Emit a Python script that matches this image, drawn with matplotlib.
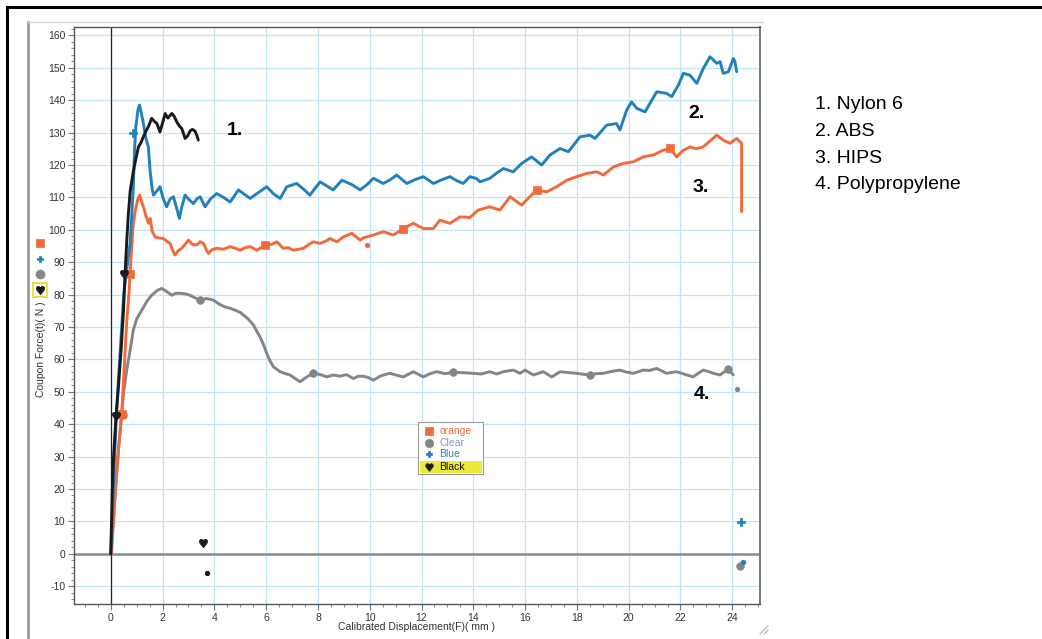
import matplotlib
matplotlib.use('Agg')
import matplotlib.pyplot as plt
from matplotlib.lines import Line2D
from matplotlib.patches import Rectangle
from matplotlib.ticker import MultipleLocator

# ---------------- data ----------------
# 1. Nylon 6 ("Black")
black_pts = [(0, 0), (0.03, 10), (0.06, 20), (0.1, 29), (0.2, 42), (0.3, 52), (0.4, 63),
             (0.49, 75), (0.55, 86), (0.62, 97), (0.68, 105), (0.75, 112), (0.87, 118),
             (0.97, 122), (1.07, 125.6), (1.17, 127), (1.26, 128.7), (1.36, 130.5),
             (1.45, 131.8), (1.58, 134.4), (1.68, 133.5), (1.78, 132.8), (1.9, 130.2),
             (2.0, 133), (2.1, 135.9), (2.2, 134.5), (2.36, 135.9), (2.45, 135),
             (2.55, 133.3), (2.65, 132), (2.74, 131.3), (2.87, 128.2), (2.97, 129),
             (3.06, 130.5), (3.15, 131), (3.25, 130.5), (3.32, 129.2), (3.38, 127.7)]
black_marks = [(0.2, 42.5), (0.5, 86.5), (3.58, 3.2)]
black_small = [(3.73, -5.9)]

# 2. ABS ("Blue")
blue_pts = [(0, 0), (0.05, 10), (0.12, 25), (0.23, 45), (0.36, 62), (0.5, 80), (0.62, 88),
            (0.75, 96), (0.87, 113), (0.92, 125), (0.97, 132), (1.05, 137), (1.11, 138.5),
            (1.18, 136), (1.26, 132.8), (1.35, 128.5), (1.45, 125.6), (1.52, 118),
            (1.6, 112.5), (1.65, 110.7), (1.78, 112), (1.9, 113.3), (2.03, 109.5),
            (2.16, 107.1), (2.29, 109.5), (2.42, 110.2), (2.55, 106.5), (2.65, 103.5),
            (2.74, 107), (2.87, 110.7), (3.0, 109.5), (3.19, 108.1), (3.32, 109.5),
            (3.45, 110.2), (3.64, 107.1), (3.85, 109.5), (4.09, 111.2), (4.35, 110),
            (4.61, 108.6), (4.93, 112.3), (5.15, 111), (5.38, 109.7), (5.7, 111.5),
            (6.02, 113.3), (6.3, 111), (6.54, 109.7), (6.8, 113.3), (7.18, 114.3),
            (7.45, 112.5), (7.69, 110.7), (8.08, 114.8), (8.35, 113.5), (8.59, 112.3),
            (8.92, 115.3), (9.3, 114), (9.63, 112.3), (9.9, 114), (10.14, 115.9),
            (10.52, 114.3), (10.8, 115.5), (11.04, 116.9), (11.43, 114.3), (11.75, 115.5),
            (12.07, 116.4), (12.46, 114.3), (12.8, 115.5), (13.1, 116.4), (13.35, 115.2),
            (13.61, 114.3), (13.87, 116.4), (14.13, 115.8), (14.26, 114.8), (14.64, 115.9),
            (14.9, 117.5), (15.16, 118.9), (15.54, 117.9), (15.87, 120.5), (16.25, 122.5),
            (16.64, 120), (16.96, 123.1), (17.35, 125.1), (17.67, 124.1), (18.12, 128.7),
            (18.51, 129.2), (18.7, 128.2), (19.15, 132.3), (19.53, 132.8), (19.66, 130.8),
            (19.92, 136.9), (20.11, 139.5), (20.31, 137.5), (20.63, 136.4), (21.08, 142.6),
            (21.47, 142.1), (21.66, 141.1), (21.92, 144.7), (22.11, 148.3), (22.37, 147.7),
            (22.63, 145.2), (22.88, 149.8), (23.14, 153.4), (23.4, 151.4), (23.53, 151.9),
            (23.65, 148.3), (23.85, 148.8), (24.04, 152.9), (24.1, 151.9), (24.17, 148.8)]
blue_marks = [(0.87, 130), (24.35, 9.9)]
blue_small = [(24.42, -2.5)]

# 3. HIPS ("orange")
orange_pts = [(0.03, 0), (0.1, 10), (0.2, 22), (0.3, 33), (0.42, 43), (0.49, 53), (0.55, 62),
              (0.62, 72), (0.7, 80), (0.75, 87), (0.81, 95), (0.87, 102), (0.95, 106),
              (1.03, 109), (1.11, 110.7), (1.2, 108.5), (1.26, 107.1), (1.35, 104.5),
              (1.45, 102), (1.52, 103.5), (1.6, 99.5), (1.71, 97.8), (1.85, 97.5),
              (2.03, 97.3), (2.16, 96.5), (2.29, 95.8), (2.4, 93.5), (2.48, 92.2),
              (2.6, 93.5), (2.74, 94.3), (2.87, 95.5), (3.0, 96.8), (3.15, 95.5),
              (3.32, 95.3), (3.45, 96.3), (3.58, 95.8), (3.68, 94), (3.77, 92.7),
              (3.9, 93.8), (4.09, 94.3), (4.35, 94), (4.61, 94.8), (4.8, 94.3), (5.0, 93.7),
              (5.2, 94.5), (5.38, 94.8), (5.64, 93.7), (5.96, 95.3), (6.2, 95.5),
              (6.41, 96.3), (6.66, 94.3), (6.85, 94.5), (7.05, 93.7), (7.25, 94),
              (7.44, 94.3), (7.65, 95.5), (7.82, 96.3), (8.08, 95.8), (8.3, 96.5),
              (8.47, 97.3), (8.73, 96.3), (8.98, 97.8), (9.31, 98.9), (9.63, 96.8),
              (9.75, 97.5), (10.14, 98.4), (10.52, 99.4), (10.91, 98.4), (11.3, 100.4),
              (11.68, 102), (12.07, 100.4), (12.46, 100.4), (12.71, 103), (13.1, 102),
              (13.49, 104), (13.87, 103.8), (14.19, 106.1), (14.64, 107.1), (15.03, 106.1),
              (15.42, 110.2), (15.87, 107.6), (16.15, 110), (16.45, 112.3), (16.83, 111.7),
              (17.22, 113.3), (17.61, 115.3), (17.99, 116.4), (18.38, 117.4), (18.77, 117.9),
              (19.02, 116.9), (19.41, 119.4), (19.79, 120.5), (20.18, 121), (20.56, 122.5),
              (20.95, 123.1), (21.34, 124.6), (21.6, 125.1), (21.85, 122.5), (22.1, 124.5),
              (22.37, 125.6), (22.6, 125), (22.88, 125.6), (23.15, 127.5), (23.4, 129.2),
              (23.65, 127.7), (23.91, 126.7), (24.17, 128.2), (24.36, 126.7), (24.36, 118),
              (24.36, 105.6)]
orange_marks = [(0.42, 43), (0.75, 86.5), (5.96, 95.3), (11.3, 100.4), (16.45, 112.3),
                (21.6, 125.1)]
orange_small = [(9.88, 95.3)]

# 4. Polypropylene ("Clear")
gray_pts = [(0, 0), (0.1, 10), (0.2, 22), (0.3, 32), (0.42, 43), (0.5, 50), (0.62, 57),
            (0.75, 63), (0.87, 69), (1.0, 72.5), (1.2, 75.2), (1.4, 78), (1.58, 79.8),
            (1.8, 81.3), (1.97, 81.9), (2.15, 81), (2.36, 79.8), (2.5, 80.4), (2.68, 80.4),
            (2.9, 80.2), (3.06, 79.8), (3.25, 79), (3.45, 78.3), (3.7, 78.8), (3.96, 78.3),
            (4.2, 77), (4.41, 76.2), (4.6, 75.8), (4.8, 75.2), (5.0, 74.5), (5.12, 73.7),
            (5.3, 72.5), (5.51, 70.6), (5.65, 68.5), (5.76, 67), (5.9, 64.5), (6.02, 61.9),
            (6.15, 59.5), (6.28, 57.7), (6.54, 56.2), (6.75, 55.6), (6.92, 55.2),
            (7.1, 54.2), (7.31, 53.1), (7.55, 54.5), (7.82, 55.7), (8.1, 55.3),
            (8.34, 54.6), (8.6, 55.2), (8.85, 54.8), (9.1, 55.3), (9.37, 54.1),
            (9.55, 54.8), (9.75, 54.8), (9.95, 54.4), (10.14, 53.6), (10.4, 54.8),
            (10.66, 55.5), (10.78, 55.7), (11.0, 55.2), (11.3, 54.6), (11.68, 56.2),
            (12.07, 54.6), (12.3, 55.5), (12.59, 56.2), (12.9, 55.6), (13.23, 56),
            (13.6, 55.9), (14.0, 55.7), (14.3, 55.5), (14.64, 56.2), (14.9, 55.5),
            (15.16, 56.2), (15.54, 56.7), (15.8, 55.7), (16.0, 56.7), (16.32, 55.2),
            (16.7, 56.2), (17.03, 54.6), (17.35, 56.2), (17.7, 55.9), (17.99, 55.7),
            (18.25, 55.4), (18.5, 55.2), (18.75, 55.6), (19.02, 55.7), (19.35, 56.3),
            (19.66, 56.7), (19.9, 56.1), (20.18, 55.7), (20.56, 56.7), (20.8, 56.6),
            (21.08, 57.2), (21.47, 55.7), (21.85, 56.2), (22.24, 55.2), (22.49, 54.6),
            (22.7, 55.8), (22.88, 56.7), (23.1, 56.2), (23.27, 55.7), (23.53, 55.2),
            (23.7, 56.2), (23.85, 56.9), (24.04, 55.2)]
gray_marks = [(0.49, 42.8), (3.45, 78.3), (7.82, 55.7), (13.23, 56), (18.5, 55.2),
              (23.85, 56.9), (24.3, -3.9)]
gray_small = [(24.17, 51.0)]

legend_labels = ["orange", "Clear", "Blue", "Black"]
material_labels = ["1. Nylon 6", "2. ABS", "3. HIPS", "4. Polypropylene"]
x_ticks = list(range(0, 25, 2))
y_ticks = list(range(-10, 161, 10))

# ---------------- styling ----------------
ORANGE = '#F26A3A'
BLUE = '#2180BD'
GRAY = '#858585'
BLACK = '#1a1a1a'

plt.rcParams['font.family'] = ['Liberation Sans', 'DejaVu Sans']
plt.rcParams['axes.unicode_minus'] = False
W, H = 1042, 639
fig = plt.figure(figsize=(W / 100, H / 100), dpi=100)
fig.patch.set_facecolor('white')


def fx(x):
    return x / W


def fy(y):
    return 1 - y / H


ax = fig.add_axes([fx(74), fy(604), (760 - 74) / W, (604 - 27) / H])
ax.set_xlim(-1.42, 25.07)
ax.set_ylim(-15.5, 162.6)


def unzip(pts):
    return [p[0] for p in pts], [p[1] for p in pts]


HEART = '$\u2665$'

series = [
    (gray_pts, gray_marks, gray_small, GRAY, 'o', 5.5),
    (orange_pts, orange_marks, orange_small, ORANGE, 's', 5.2),
    (blue_pts, blue_marks, blue_small, BLUE, 'P', 6),
    (black_pts, black_marks, black_small, BLACK, HEART, 6),
]
for i, (pts, marks, small, col, mk, ms) in enumerate(series):
    x, y = unzip(pts)
    ax.plot(x, y, color=col, lw=2.1, solid_capstyle='round', solid_joinstyle='round',
            zorder=3 + i)
    mx, my = unzip(marks)
    ax.plot(mx, my, ls='none', marker=mk, ms=ms, color=col, mec=col, mew=0.5, zorder=3 + i)
    sx, sy = unzip(small)
    ax.plot(sx, sy, ls='none', marker='o', ms=2.8, color=col, zorder=3 + i)

ax.xaxis.set_major_locator(MultipleLocator(2))
ax.xaxis.set_minor_locator(MultipleLocator(0.5))
ax.yaxis.set_major_locator(MultipleLocator(10))
ax.yaxis.set_minor_locator(MultipleLocator(2))
ax.set_xticks(x_ticks)
ax.set_yticks(y_ticks)
ax.tick_params(which='major', length=4, width=0.8, color='#777777', direction='out',
               labelsize=7.5, labelcolor='#333333', pad=2.3)
ax.tick_params(which='minor', length=2.2, width=0.7, color='#888888', direction='out')
ax.tick_params(top=False, right=False, which='both')

ax.grid(which='major', color='#c3e4f5', lw=0.9)
ax.set_axisbelow(True)
ax.axhline(0, color='#8c8c8c', lw=1.8, zorder=2)
ax.axvline(0, color='#222222', lw=0.9, zorder=2)
for s in ax.spines.values():
    s.set_color('#555555')
    s.set_linewidth(1.0)
ax.spines['right'].set_color('#777777')
ax.spines['right'].set_linewidth(1.4)

# axis labels
fig.text(fx(417), fy(627), 'Calibrated Displacement(F)( mm )', ha='center', va='center',
         fontsize=7.5, color='#333333')
fig.text(fx(41), fy(349), 'Coupon Force(t)( N )', ha='center', va='center',
         rotation=90, fontsize=7.5, color='#333333')

# series symbols in the y-label area
ylab_syms = [(243, 's', ORANGE, 6), (259, 'P', BLUE, 5), (274, 'o', GRAY, 6.5),
             (290, HEART, BLACK, 6)]
for yy, mk, col, ms in ylab_syms:
    fig.add_artist(Line2D([fx(40)], [fy(yy)], marker=mk, color=col, mec=col, mew=0.5, ms=ms,
                          ls='none', transform=fig.transFigure))
fig.add_artist(Rectangle((fx(33.3), fy(296.7)), 13.4 / W, 13.4 / H, fill=False,
                         ec='#e6df2a', lw=1.3, transform=fig.transFigure))

# legend box
fig.add_artist(Rectangle((fx(418.3), fy(474.3)), (482.7 - 418.3) / W, (474.3 - 421.7) / H,
                         fc='white', ec='#9a9a9a', lw=0.8, transform=fig.transFigure,
                         zorder=10))
fig.add_artist(Rectangle((fx(420), fy(473.3)), (481.7 - 420) / W, (473.3 - 460.7) / H,
                         fc='#ede83a', ec='none', transform=fig.transFigure, zorder=11))
leg_rows = [(430.7, 's', ORANGE, ORANGE, 5.5), (442.7, 'o', GRAY, '#8b96a8', 6),
            (454.3, 'P', BLUE, '#2e86c1', 4.5), (467.3, HEART, BLACK, '#111111', 5.5)]
for (yy, mk, col, tcol, ms), lab in zip(leg_rows, legend_labels):
    fig.add_artist(Line2D([fx(429.3)], [fy(yy)], marker=mk, color=col, mec=col, mew=0.5,
                          ms=ms, ls='none', transform=fig.transFigure, zorder=12))
    fig.text(fx(439.3), fy(yy), lab, ha='left', va='center', fontsize=7.5, color=tcol,
             zorder=12)

# curve numbers
for (xx, yy), t in zip([(227, 135), (688, 118), (692.7, 191.7), (694, 399.3)],
                       ['1.', '2.', '3.', '4.']):
    fig.text(fx(xx), fy(yy), t, ha='left', va='baseline', fontsize=14,
             fontweight='bold', color='black', zorder=12)

# material list
for i, t in enumerate(material_labels):
    fig.text(fx(815), fy(109 + i * 26.8), t, ha='left', va='baseline', fontsize=14,
             color='black')

# frames
fig.add_artist(Line2D([fx(7), fx(7)], [fy(7), 0], color='black', lw=2.2,
                      transform=fig.transFigure))
fig.add_artist(Line2D([fx(7), 1], [fy(7), fy(7)], color='black', lw=2.2,
                      transform=fig.transFigure))
fig.add_artist(Line2D([fx(28), fx(28)], [fy(22), 0], color='#9a9a9a', lw=2,
                      transform=fig.transFigure))
fig.add_artist(Line2D([fx(28), fx(763)], [fy(22), fy(22)], color='#d4d4d4', lw=1,
                      transform=fig.transFigure))
# resize grip
for d in (4, 8):
    fig.add_artist(Line2D([fx(768 - d), fx(768)], [fy(634), fy(634 - d)], color='#b0b0b0',
                          lw=0.8, transform=fig.transFigure))

fig.savefig('out.png', dpi=100)
